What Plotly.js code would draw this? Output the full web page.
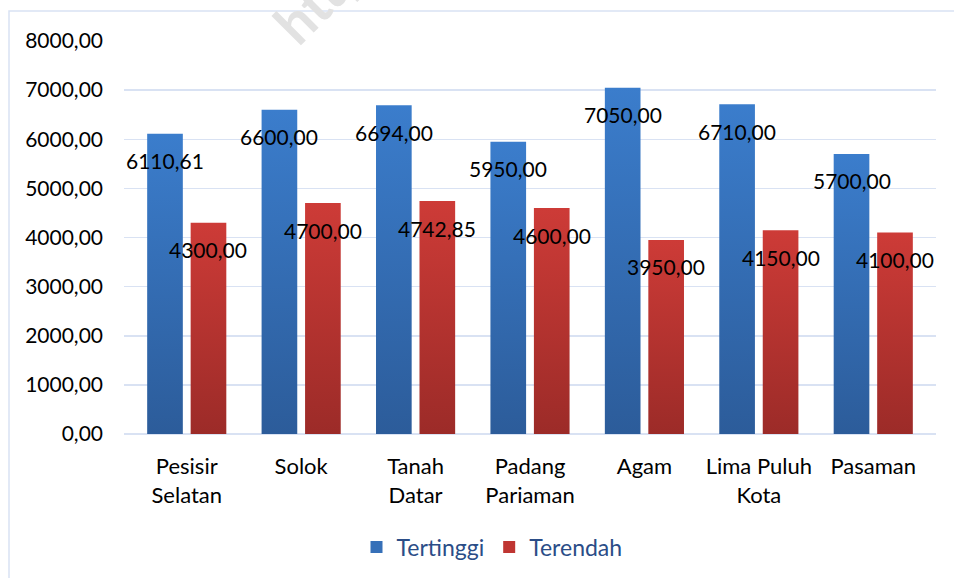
<!DOCTYPE html>
<html>
<head>
<meta charset="utf-8">
<script src="https://cdn.plot.ly/plotly-3.0.1.min.js"></script>
<style>
  html, body { margin: 0; padding: 0; background: #fff; }
  #chart { width: 954px; height: 578px; }
</style>
</head>
<body>
<div id="chart"></div>
<script>
const categories = ["Pesisir<br>Selatan", "Solok", "Tanah<br>Datar", "Padang<br>Pariaman", "Agam", "Lima Puluh<br>Kota", "Pasaman"];
const tertinggi = [6110.61, 6600.00, 6694.00, 5950.00, 7050.00, 6710.00, 5700.00];
const terendah  = [4300.00, 4700.00, 4742.85, 4600.00, 3950.00, 4150.00, 4100.00];
const seriesNames = ["Tertinggi", "Terendah"];
const yTicks = [0, 1000, 2000, 3000, 4000, 5000, 6000, 7000, 8000];

const FONT = "Lato, 'Open Sans', sans-serif";
const bargap = 0.24;
const off = (1 - bargap) / 4;
const ML = 124, MR = 18, MT = 41, MB = 144, W = 954, H = 578;
const PW = W - ML - MR, PH = H - MT - MB;

const traces = [
  { type: "bar", name: seriesNames[0], x: categories, y: tertinggi, marker: { color: "#3670b8" }, hoverinfo: "none" },
  { type: "bar", name: seriesNames[1], x: categories, y: terendah, marker: { color: "#bf3532" }, hoverinfo: "none" }
];

const annotations = [];
const fmt = v => v.toFixed(2).replace(".", ",");
tertinggi.forEach((v, i) => annotations.push({
  x: i - off, y: v, xref: "x", yref: "y", text: fmt(v), showarrow: false,
  yshift: -27, font: { family: FONT, size: 21, color: "#000" }
}));
terendah.forEach((v, i) => annotations.push({
  x: i + off, y: v, xref: "x", yref: "y", text: fmt(v), showarrow: false,
  yshift: -27, font: { family: FONT, size: 21, color: "#000" }
}));
// watermark fragment (partly outside the top edge, as in the source image)
annotations.push({
  x: (338 - ML) / PW, y: (H - MB + 23) / PH, xref: "paper", yref: "paper",
  xanchor: "center", yanchor: "middle",
  text: "<b>http://</b>", showarrow: false,
  textangle: -45, font: { family: FONT, size: 56, color: "#e2e2e2" }
});

const layout = {
  width: W, height: H,
  margin: { l: ML, r: MR, t: MT, b: MB, autoexpand: false },
  paper_bgcolor: "#fff", plot_bgcolor: "#fff",
  separators: ",.",
  barmode: "group", bargap: bargap, bargroupgap: 0.18,
  font: { family: FONT, size: 21, color: "#000" },
  xaxis: {
    type: "category", showgrid: false, showline: false, zeroline: false,
    ticks: "", ticklabelstandoff: 17, automargin: false,
    tickfont: { family: FONT, size: 22, color: "#000" }
  },
  yaxis: {
    range: [0, 8000], tickvals: yTicks, tickformat: ".2f", automargin: false,
    showgrid: true, gridcolor: "#d9e2f3", gridwidth: 1.5,
    zeroline: true, zerolinecolor: "#d9e2f3", zerolinewidth: 2,
    showline: false, ticks: "", ticklabelstandoff: 20,
    tickfont: { family: FONT, size: 21, color: "#000" }
  },
  showlegend: true,
  legend: {
    orientation: "h", x: (492 - ML) / PW, xanchor: "center",
    yref: "container", y: (H - 547) / H, yanchor: "middle",
    font: { family: FONT, size: 23, color: "#2b4d87" },
    itemwidth: 30, tracegroupgap: 0
  },
  annotations: annotations,
  shapes: [{
    type: "rect", xref: "paper", yref: "paper",
    x0: (9 - ML) / PW, x1: 1.05, y0: -0.4, y1: (H - MB - 11) / PH,
    line: { color: "#d9e2f3", width: 1.5 }, fillcolor: "rgba(0,0,0,0)", layer: "below"
  }]
};

Plotly.newPlot("chart", traces, layout, { staticPlot: true, displayModeBar: false }).then(gd => {
  const svg = gd.querySelector("svg.main-svg");
  const ns = "http://www.w3.org/2000/svg";
  let defs = svg.querySelector("defs");
  if (!defs) { defs = document.createElementNS(ns, "defs"); svg.insertBefore(defs, svg.firstChild); }
  const grads = [["gBlue", "#3b7dcc", "#2c5c9a"], ["gRed", "#cd3b37", "#9c2b28"]];
  grads.forEach(([id, c1, c2]) => {
    const g = document.createElementNS(ns, "linearGradient");
    g.setAttribute("id", id); g.setAttribute("x1", "0"); g.setAttribute("y1", "0");
    g.setAttribute("x2", "0"); g.setAttribute("y2", "1");
    [[0, c1], [1, c2]].forEach(([o, c]) => {
      const s = document.createElementNS(ns, "stop");
      s.setAttribute("offset", o); s.setAttribute("stop-color", c);
      g.appendChild(s);
    });
    defs.appendChild(g);
  });
  const barTraces = gd.querySelectorAll(".barlayer .trace.bars");
  barTraces.forEach((t, i) => {
    t.querySelectorAll("path").forEach(p => { p.style.fill = "url(#" + grads[i][0] + ")"; });
  });
});
</script>
</body>
</html>
